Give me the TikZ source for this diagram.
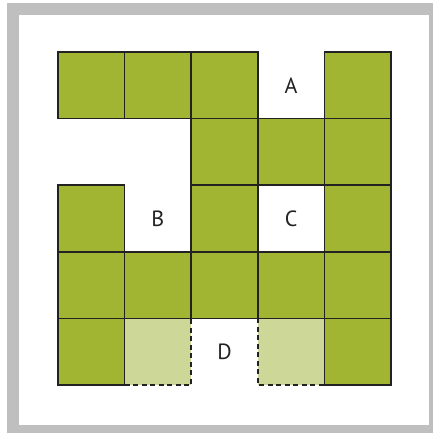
\documentclass[tikz,border=0pt]{standalone}
\usepackage{fontspec}
\setmainfont{PT Sans}
\definecolor{grass}{HTML}{A2B532}
\definecolor{paleg}{HTML}{CDD898}
\definecolor{edge}{HTML}{222222}
\begin{document}
\begin{tikzpicture}[x=1pt,y=-1pt,line width=1.7pt,
  cell/.style={fill=grass,draw=edge},
  gap/.style={edge,dash pattern=on 5pt off 3.5pt},
  letter/.style={font=\fontsize{22}{22}\selectfont,text=edge}]
  \useasboundingbox (0,0) rectangle (433,433);
  % frame
  \fill[black!25] (7,3) rectangle (433,433);
  \fill[white] (19,15) rectangle (429,425);
  % pale cells at the bottom
  \fill[paleg] (124.6,318.4) rectangle +(66.6,66.6);
  \fill[paleg] (257.8,318.4) rectangle +(66.6,66.6);
  % green cells
  \foreach \c/\r in {0/0,1/0,2/0,4/0,2/1,3/1,4/1,0/2,2/2,4/2,
                     0/3,1/3,2/3,3/3,4/3,0/4,4/4}
    \filldraw[cell] ({58+\c*66.6},{52+\r*66.6}) rectangle +(66.6,66.6);
  % dashed edges round D
  \draw[gap] (124.6,385) -- (191.2,385) -- (191.2,318.4);
  \draw[gap] (257.8,318.4) -- (257.8,385) -- (324.4,385);
  % labels
  \node[letter] (labA) at (291.1,86) {A};
  \node[letter] (labB) at (157.9,219) {B};
  \node[letter] (labC) at (291.1,219) {C};
  \node[letter] (labD) at (224.5,352) {D};
\end{tikzpicture}
\end{document}
